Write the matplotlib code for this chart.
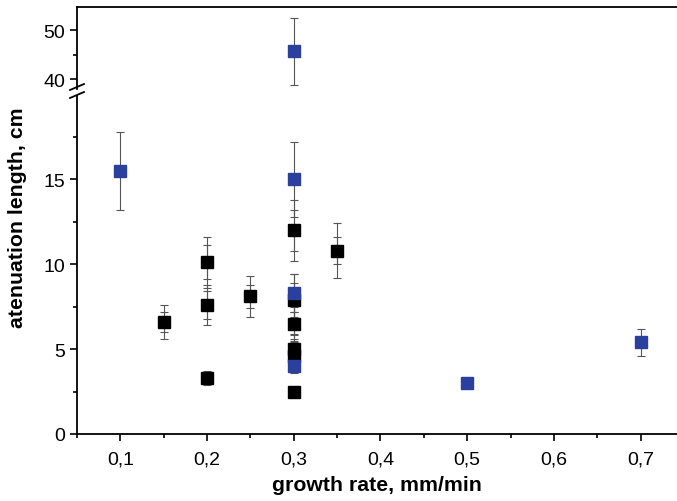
import matplotlib.pyplot as plt
from matplotlib.ticker import MultipleLocator, FuncFormatter

plt.rcParams['font.family'] = ['Liberation Sans', 'DejaVu Sans']

# blue series
blue_x = [0.1, 0.3, 0.3, 0.3, 0.3, 0.5, 0.7]
blue_y = [15.5, 45.7, 15.0, 8.3, 4.0, 3.0, 5.4]
blue_err = [2.3, 6.8, 2.2, 1.1, 0.4, 0.3, 0.8]

# black series (outer and inner error caps)
black_x = [0.15, 0.2, 0.2, 0.2, 0.25, 0.3, 0.3, 0.3, 0.3, 0.3, 0.3, 0.35]
black_y = [6.6, 10.1, 7.6, 3.3, 8.1, 12.0, 7.9, 6.5, 5.0, 4.6, 2.5, 10.8]
black_err = [1.0, 1.5, 1.2, 0.4, 1.2, 1.8, 1.5, 1.0, 0.9, 0.8, 0.2, 1.6]
black_err2 = [0.6, 1.0, 0.8, 0.3, 0.7, 1.2, 1.0, 0.7, 0.6, 0.5, 0.15, 0.8]

W, H = 677, 502
fig = plt.figure(figsize=(W / 100, H / 100), dpi=100)

left = 77 / W
ax_hi = fig.add_axes([left, 1 - 90 / H, 1 - left, (90 - 8) / H])
ax_lo = fig.add_axes([left, 1 - 435 / H, 1 - left, (435 - 97) / H])

blue = '#2a3f9e'
ecol = '#555555'


def comma(v, pos):
    s = ('%g' % v)
    return s.replace('.', ',')


for ax in (ax_hi, ax_lo):
    ax.errorbar(black_x, black_y, yerr=black_err, fmt='none', ecolor=ecol,
                elinewidth=0.8, capsize=3.2, capthick=0.8)
    ax.errorbar(black_x, black_y, yerr=black_err2, fmt='none', ecolor=ecol,
                elinewidth=0.8, capsize=3.2, capthick=0.8)
    ax.errorbar(blue_x, blue_y, yerr=blue_err, fmt='none', ecolor=ecol,
                elinewidth=0.8, capsize=3.2, capthick=0.8)
    ax.plot(black_x, black_y, 's', color='black', ms=9, mec='black', zorder=3)
    ax.plot(blue_x, blue_y, 's', color=blue, ms=9, mec=blue, zorder=4)
    ax.set_xlim(0.05, 0.742)
    ax.spines['right'].set_visible(False)
    for s in ax.spines.values():
        s.set_linewidth(1.3)
    ax.tick_params(direction='out', labelsize=14, width=1.2, length=5)
    ax.tick_params(which='minor', direction='out', width=1.2, length=3)
    ax.yaxis.set_major_formatter(FuncFormatter(comma))

ax_hi.set_ylim(38.0, 54.7)
ax_hi.yaxis.set_major_locator(MultipleLocator(10))
ax_hi.yaxis.set_minor_locator(MultipleLocator(5))
ax_hi.spines['bottom'].set_visible(False)
ax_hi.tick_params(axis='x', which='both', bottom=False, labelbottom=False)

ax_lo.set_ylim(0, 19.9)
ax_lo.yaxis.set_major_locator(MultipleLocator(5))
ax_lo.yaxis.set_minor_locator(MultipleLocator(2.5))
ax_lo.xaxis.set_major_locator(MultipleLocator(0.1))
ax_lo.xaxis.set_minor_locator(MultipleLocator(0.05))
ax_lo.xaxis.set_major_formatter(FuncFormatter(comma))
ax_lo.spines['top'].set_visible(False)
ax_lo.tick_params(axis='x', pad=7)

# break marks on the y axis
for yb in (88, 96):
    fig.add_artist(plt.Line2D([70 / W, 84 / W], [1 - (yb + 3) / H, 1 - (yb - 3) / H],
                              color='black', lw=1.3, transform=fig.transFigure))

ax_lo.set_xlabel('growth rate, mm/min', fontsize=15.3, fontweight='bold', labelpad=5)
fig.text(18 / W, 1 - 218 / H, 'atenuation length, cm', rotation=90, fontsize=15.3,
         fontweight='bold', ha='center', va='center')

fig.savefig('out.png', dpi=100)
